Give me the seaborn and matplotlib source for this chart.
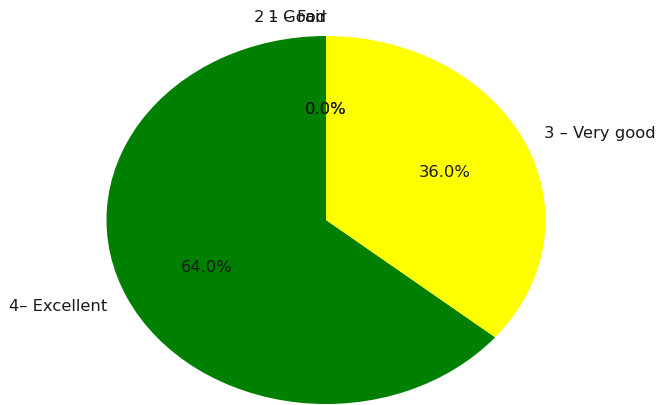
import numpy as np
import matplotlib
matplotlib.use("Agg")
import matplotlib.pyplot as plt
import seaborn as sns

labels = ['4– Excellent', '3 – Very good', '2 – Good', '1 – Fair']
counts = [16, 9, 0, 0]
colors = ['green', 'yellow', 'orange', 'red']

sns.set_style('white')
plt.rcParams['font.family'] = ['DejaVu Sans']

fig = plt.figure(figsize=(6.57, 4.05), dpi=100)
ax = fig.add_axes([0, 0, 1, 1])
ax.pie(counts, labels=labels, colors=colors, autopct='%1.1f%%', startangle=90,
       wedgeprops={'linewidth': 0, 'edgecolor': 'none'},
       textprops={'fontsize': 11.8, 'color': '#1a1a1a'})
# stretched pie like the original picture
ax.set_aspect('auto')
ax.set_xlim(-326 / 219.5, (657 - 326) / 219.5)
ax.set_ylim(-185 / 184, 220 / 184)
ax.axis('off')

fig.savefig('out.png', dpi=100)
